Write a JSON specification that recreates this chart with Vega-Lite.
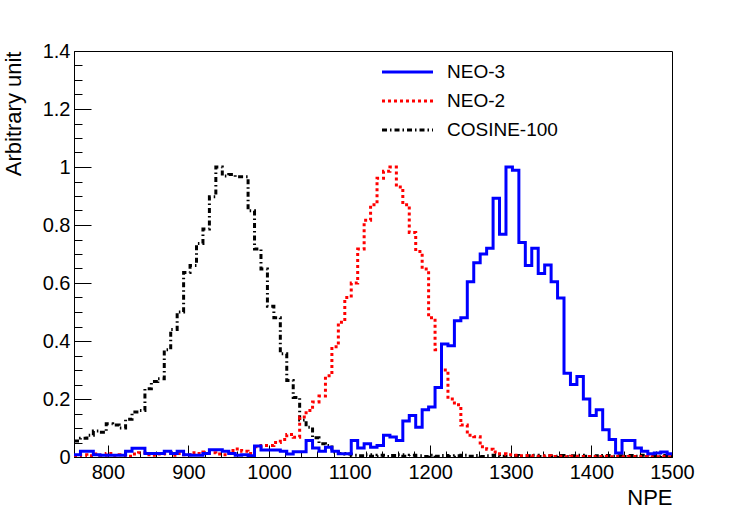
{
  "$schema": "https://vega.github.io/schema/vega-lite/v6.json",
  "width": 598,
  "height": 406,
  "autosize": {"type": "none"},
  "padding": {"left": 74, "top": 51, "right": 75, "bottom": 51},
  "background": "white",
  "config": {
    "font": "Liberation Sans",
    "view": {"stroke": "black", "strokeWidth": 1}
  },
  "data": {
    "values": [
      {"NPE": 758, "NEO-3": 0.008, "NEO-2": 0.005, "COSINE-100": 0.055},
      {"NPE": 766, "NEO-3": 0.02, "NEO-2": 0.008, "COSINE-100": 0.065},
      {"NPE": 774, "NEO-3": 0.02, "NEO-2": 0.004, "COSINE-100": 0.075},
      {"NPE": 782, "NEO-3": 0.008, "NEO-2": 0.01, "COSINE-100": 0.09},
      {"NPE": 790, "NEO-3": 0.006, "NEO-2": 0.006, "COSINE-100": 0.085},
      {"NPE": 798, "NEO-3": 0.006, "NEO-2": 0.012, "COSINE-100": 0.115},
      {"NPE": 806, "NEO-3": 0.006, "NEO-2": 0.005, "COSINE-100": 0.11},
      {"NPE": 814, "NEO-3": 0.006, "NEO-2": 0.008, "COSINE-100": 0.1},
      {"NPE": 822, "NEO-3": 0.02, "NEO-2": 0.003, "COSINE-100": 0.13},
      {"NPE": 830, "NEO-3": 0.03, "NEO-2": 0.01, "COSINE-100": 0.155},
      {"NPE": 838, "NEO-3": 0.03, "NEO-2": 0.015, "COSINE-100": 0.16},
      {"NPE": 846, "NEO-3": 0.012, "NEO-2": 0.008, "COSINE-100": 0.235},
      {"NPE": 854, "NEO-3": 0.012, "NEO-2": 0.006, "COSINE-100": 0.26},
      {"NPE": 862, "NEO-3": 0.012, "NEO-2": 0.01, "COSINE-100": 0.27},
      {"NPE": 870, "NEO-3": 0.02, "NEO-2": 0.012, "COSINE-100": 0.37},
      {"NPE": 878, "NEO-3": 0.012, "NEO-2": 0.006, "COSINE-100": 0.44},
      {"NPE": 886, "NEO-3": 0.02, "NEO-2": 0.012, "COSINE-100": 0.5},
      {"NPE": 894, "NEO-3": 0.008, "NEO-2": 0.008, "COSINE-100": 0.636},
      {"NPE": 902, "NEO-3": 0.006, "NEO-2": 0.015, "COSINE-100": 0.66},
      {"NPE": 910, "NEO-3": 0.006, "NEO-2": 0.012, "COSINE-100": 0.736},
      {"NPE": 918, "NEO-3": 0.012, "NEO-2": 0.017, "COSINE-100": 0.786},
      {"NPE": 926, "NEO-3": 0.025, "NEO-2": 0.015, "COSINE-100": 0.897},
      {"NPE": 934, "NEO-3": 0.025, "NEO-2": 0.01, "COSINE-100": 1.0},
      {"NPE": 942, "NEO-3": 0.02, "NEO-2": 0.008, "COSINE-100": 0.969},
      {"NPE": 950, "NEO-3": 0.012, "NEO-2": 0.022, "COSINE-100": 0.974},
      {"NPE": 958, "NEO-3": 0.006, "NEO-2": 0.028, "COSINE-100": 0.966},
      {"NPE": 966, "NEO-3": 0.008, "NEO-2": 0.02, "COSINE-100": 0.966},
      {"NPE": 974, "NEO-3": 0.004, "NEO-2": 0.012, "COSINE-100": 0.849},
      {"NPE": 982, "NEO-3": 0.038, "NEO-2": 0.035, "COSINE-100": 0.717},
      {"NPE": 990, "NEO-3": 0.024, "NEO-2": 0.04, "COSINE-100": 0.648},
      {"NPE": 998, "NEO-3": 0.024, "NEO-2": 0.04, "COSINE-100": 0.52},
      {"NPE": 1006, "NEO-3": 0.024, "NEO-2": 0.05, "COSINE-100": 0.48},
      {"NPE": 1014, "NEO-3": 0.02, "NEO-2": 0.06, "COSINE-100": 0.356},
      {"NPE": 1022, "NEO-3": 0.01, "NEO-2": 0.078, "COSINE-100": 0.264},
      {"NPE": 1030, "NEO-3": 0.018, "NEO-2": 0.068, "COSINE-100": 0.205},
      {"NPE": 1038, "NEO-3": 0.018, "NEO-2": 0.138, "COSINE-100": 0.128},
      {"NPE": 1046, "NEO-3": 0.057, "NEO-2": 0.16, "COSINE-100": 0.103},
      {"NPE": 1054, "NEO-3": 0.031, "NEO-2": 0.19, "COSINE-100": 0.066},
      {"NPE": 1062, "NEO-3": 0.02, "NEO-2": 0.21, "COSINE-100": 0.046},
      {"NPE": 1070, "NEO-3": 0.034, "NEO-2": 0.28, "COSINE-100": 0.04},
      {"NPE": 1078, "NEO-3": 0.02, "NEO-2": 0.38, "COSINE-100": 0.017},
      {"NPE": 1086, "NEO-3": 0.011, "NEO-2": 0.465, "COSINE-100": 0.012},
      {"NPE": 1094, "NEO-3": 0.011, "NEO-2": 0.55, "COSINE-100": 0.01},
      {"NPE": 1102, "NEO-3": 0.057, "NEO-2": 0.6, "COSINE-100": 0.006},
      {"NPE": 1110, "NEO-3": 0.031, "NEO-2": 0.717, "COSINE-100": 0.004},
      {"NPE": 1118, "NEO-3": 0.046, "NEO-2": 0.816, "COSINE-100": 0.008},
      {"NPE": 1126, "NEO-3": 0.034, "NEO-2": 0.87, "COSINE-100": 0.003},
      {"NPE": 1134, "NEO-3": 0.04, "NEO-2": 0.961, "COSINE-100": 0.006},
      {"NPE": 1142, "NEO-3": 0.075, "NEO-2": 0.985, "COSINE-100": 0.002},
      {"NPE": 1150, "NEO-3": 0.069, "NEO-2": 1.0, "COSINE-100": 0.005},
      {"NPE": 1158, "NEO-3": 0.057, "NEO-2": 0.931, "COSINE-100": 0.008},
      {"NPE": 1166, "NEO-3": 0.124, "NEO-2": 0.87, "COSINE-100": 0.003},
      {"NPE": 1174, "NEO-3": 0.143, "NEO-2": 0.774, "COSINE-100": 0.006},
      {"NPE": 1182, "NEO-3": 0.103, "NEO-2": 0.709, "COSINE-100": 0.004},
      {"NPE": 1190, "NEO-3": 0.163, "NEO-2": 0.648, "COSINE-100": 0.002},
      {"NPE": 1198, "NEO-3": 0.172, "NEO-2": 0.48, "COSINE-100": 0.006},
      {"NPE": 1206, "NEO-3": 0.24, "NEO-2": 0.37, "COSINE-100": 0.003},
      {"NPE": 1214, "NEO-3": 0.39, "NEO-2": 0.3, "COSINE-100": 0.005},
      {"NPE": 1222, "NEO-3": 0.384, "NEO-2": 0.2, "COSINE-100": 0.002},
      {"NPE": 1230, "NEO-3": 0.47, "NEO-2": 0.18, "COSINE-100": 0.004},
      {"NPE": 1238, "NEO-3": 0.48, "NEO-2": 0.11, "COSINE-100": 0.006},
      {"NPE": 1246, "NEO-3": 0.604, "NEO-2": 0.075, "COSINE-100": 0.003},
      {"NPE": 1254, "NEO-3": 0.67, "NEO-2": 0.07, "COSINE-100": 0.005},
      {"NPE": 1262, "NEO-3": 0.7, "NEO-2": 0.035, "COSINE-100": 0.002},
      {"NPE": 1270, "NEO-3": 0.72, "NEO-2": 0.027, "COSINE-100": 0.004},
      {"NPE": 1278, "NEO-3": 0.892, "NEO-2": 0.017, "COSINE-100": 0.006},
      {"NPE": 1286, "NEO-3": 0.768, "NEO-2": 0.011, "COSINE-100": 0.003},
      {"NPE": 1294, "NEO-3": 1.0, "NEO-2": 0.008, "COSINE-100": 0.002},
      {"NPE": 1302, "NEO-3": 0.989, "NEO-2": 0.006, "COSINE-100": 0.005},
      {"NPE": 1310, "NEO-3": 0.74, "NEO-2": 0.004, "COSINE-100": 0.003},
      {"NPE": 1318, "NEO-3": 0.66, "NEO-2": 0.005, "COSINE-100": 0.004},
      {"NPE": 1326, "NEO-3": 0.72, "NEO-2": 0.003, "COSINE-100": 0.006},
      {"NPE": 1334, "NEO-3": 0.633, "NEO-2": 0.002, "COSINE-100": 0.002},
      {"NPE": 1342, "NEO-3": 0.662, "NEO-2": 0.004, "COSINE-100": 0.004},
      {"NPE": 1350, "NEO-3": 0.604, "NEO-2": 0.002, "COSINE-100": 0.003},
      {"NPE": 1358, "NEO-3": 0.548, "NEO-2": 0.003, "COSINE-100": 0.005},
      {"NPE": 1366, "NEO-3": 0.289, "NEO-2": 0.001, "COSINE-100": 0.002},
      {"NPE": 1374, "NEO-3": 0.25, "NEO-2": 0.003, "COSINE-100": 0.004},
      {"NPE": 1382, "NEO-3": 0.278, "NEO-2": 0.002, "COSINE-100": 0.006},
      {"NPE": 1390, "NEO-3": 0.2, "NEO-2": 0.002, "COSINE-100": 0.003},
      {"NPE": 1398, "NEO-3": 0.143, "NEO-2": 0.001, "COSINE-100": 0.002},
      {"NPE": 1406, "NEO-3": 0.163, "NEO-2": 0.002, "COSINE-100": 0.004},
      {"NPE": 1414, "NEO-3": 0.094, "NEO-2": 0.003, "COSINE-100": 0.005},
      {"NPE": 1422, "NEO-3": 0.06, "NEO-2": 0.001, "COSINE-100": 0.003},
      {"NPE": 1430, "NEO-3": 0.014, "NEO-2": 0.002, "COSINE-100": 0.004},
      {"NPE": 1438, "NEO-3": 0.057, "NEO-2": 0.001, "COSINE-100": 0.002},
      {"NPE": 1446, "NEO-3": 0.057, "NEO-2": 0.002, "COSINE-100": 0.005},
      {"NPE": 1454, "NEO-3": 0.031, "NEO-2": 0.001, "COSINE-100": 0.003},
      {"NPE": 1462, "NEO-3": 0.02, "NEO-2": 0.002, "COSINE-100": 0.006},
      {"NPE": 1470, "NEO-3": 0.011, "NEO-2": 0.001, "COSINE-100": 0.004},
      {"NPE": 1478, "NEO-3": 0.014, "NEO-2": 0.001, "COSINE-100": 0.003},
      {"NPE": 1486, "NEO-3": 0.017, "NEO-2": 0.002, "COSINE-100": 0.005},
      {"NPE": 1494, "NEO-3": 0.011, "NEO-2": 0.001, "COSINE-100": 0.004},
      {"NPE": 1502, "NEO-3": 0.011, "NEO-2": 0.001, "COSINE-100": 0.004}
    ]
  },
  "transform": [
    {"fold": ["COSINE-100", "NEO-2", "NEO-3"], "as": ["series", "value"]}
  ],
  "mark": {"type": "line", "interpolate": "step-after", "clip": true, "strokeWidth": 3},
  "encoding": {
    "x": {
      "field": "NPE",
      "type": "quantitative",
      "scale": {"domain": [758, 1500], "nice": false, "zero": false},
      "axis": {
        "title": "NPE",
        "titleFont": "Liberation Sans",
        "titleFontSize": 22,
        "titleFontWeight": "normal",
        "titleColor": "black",
        "titleAnchor": "end",
        "titleAlign": "right",
        "titleBaseline": "alphabetic",
        "titleX": 598,
        "titleY": 47,
        "values": [780, 800, 820, 840, 860, 880, 900, 920, 940, 960, 980, 1000, 1020, 1040, 1060, 1080, 1100, 1120, 1140, 1160, 1180, 1200, 1220, 1240, 1260, 1280, 1300, 1320, 1340, 1360, 1380, 1400, 1420, 1440, 1460, 1480, 1500],
        "format": "d",
        "labelExpr": "datum.value % 100 === 0 ? datum.label : ''",
        "labelFontSize": 20,
        "labelColor": "black",
        "labelPadding": 17,
        "labelFlush": false,
        "labelOverlap": false,
        "domainColor": "black",
        "tickColor": "black",
        "tickSize": {"condition": {"test": "datum.value % 100 === 0", "value": -12}, "value": -6},
        "grid": false
      }
    },
    "y": {
      "field": "value",
      "type": "quantitative",
      "scale": {"domain": [0, 1.4], "nice": false},
      "axis": {
        "title": "Arbitrary unit",
        "titleFont": "Liberation Sans",
        "titleFontSize": 22,
        "titleFontWeight": "normal",
        "titleColor": "black",
        "titleAngle": -90,
        "titleAlign": "right",
        "titleBaseline": "alphabetic",
        "titleX": -54,
        "titleY": 0,
        "values": [0, 0.05, 0.1, 0.15, 0.2, 0.25, 0.3, 0.35, 0.4, 0.45, 0.5, 0.55, 0.6, 0.65, 0.7, 0.75, 0.8, 0.85, 0.9, 0.95, 1, 1.05, 1.1, 1.15, 1.2, 1.25, 1.3, 1.35, 1.4],
        "format": "~g",
        "labelExpr": "round(datum.value * 100) % 20 === 0 ? datum.label : ''",
        "labelFontSize": 20,
        "labelColor": "black",
        "labelPadding": 21,
        "labelFlush": false,
        "labelOverlap": false,
        "domainColor": "black",
        "tickColor": "black",
        "tickSize": {"condition": {"test": "round(datum.value * 100) % 20 === 0", "value": -17}, "value": -8},
        "grid": false
      }
    },
    "color": {
      "field": "series",
      "type": "nominal",
      "scale": {"domain": ["NEO-3", "NEO-2", "COSINE-100"], "range": ["#0000ff", "#ff0000", "#000000"]},
      "legend": {
        "title": null,
        "orient": "none",
        "legendX": 319,
        "legendY": 6.5,
        "symbolType": "M-2,0H2",
        "symbolSize": 650,
        "symbolStrokeWidth": 3,
        "labelFontSize": 19,
        "labelColor": "black",
        "labelOffset": 25,
        "rowPadding": 4
      }
    },
    "strokeDash": {
      "field": "series",
      "type": "nominal",
      "scale": {"domain": ["NEO-3", "NEO-2", "COSINE-100"], "range": [[1, 0], [3, 3], [5, 3, 1.5, 3]]},
      "legend": {
        "title": null,
        "orient": "none",
        "legendX": 319,
        "legendY": 6.5,
        "symbolType": "M-2,0H2",
        "symbolSize": 650,
        "symbolStrokeWidth": 3,
        "labelFontSize": 19,
        "labelColor": "black",
        "labelOffset": 25,
        "rowPadding": 4
      }
    }
  }
}
